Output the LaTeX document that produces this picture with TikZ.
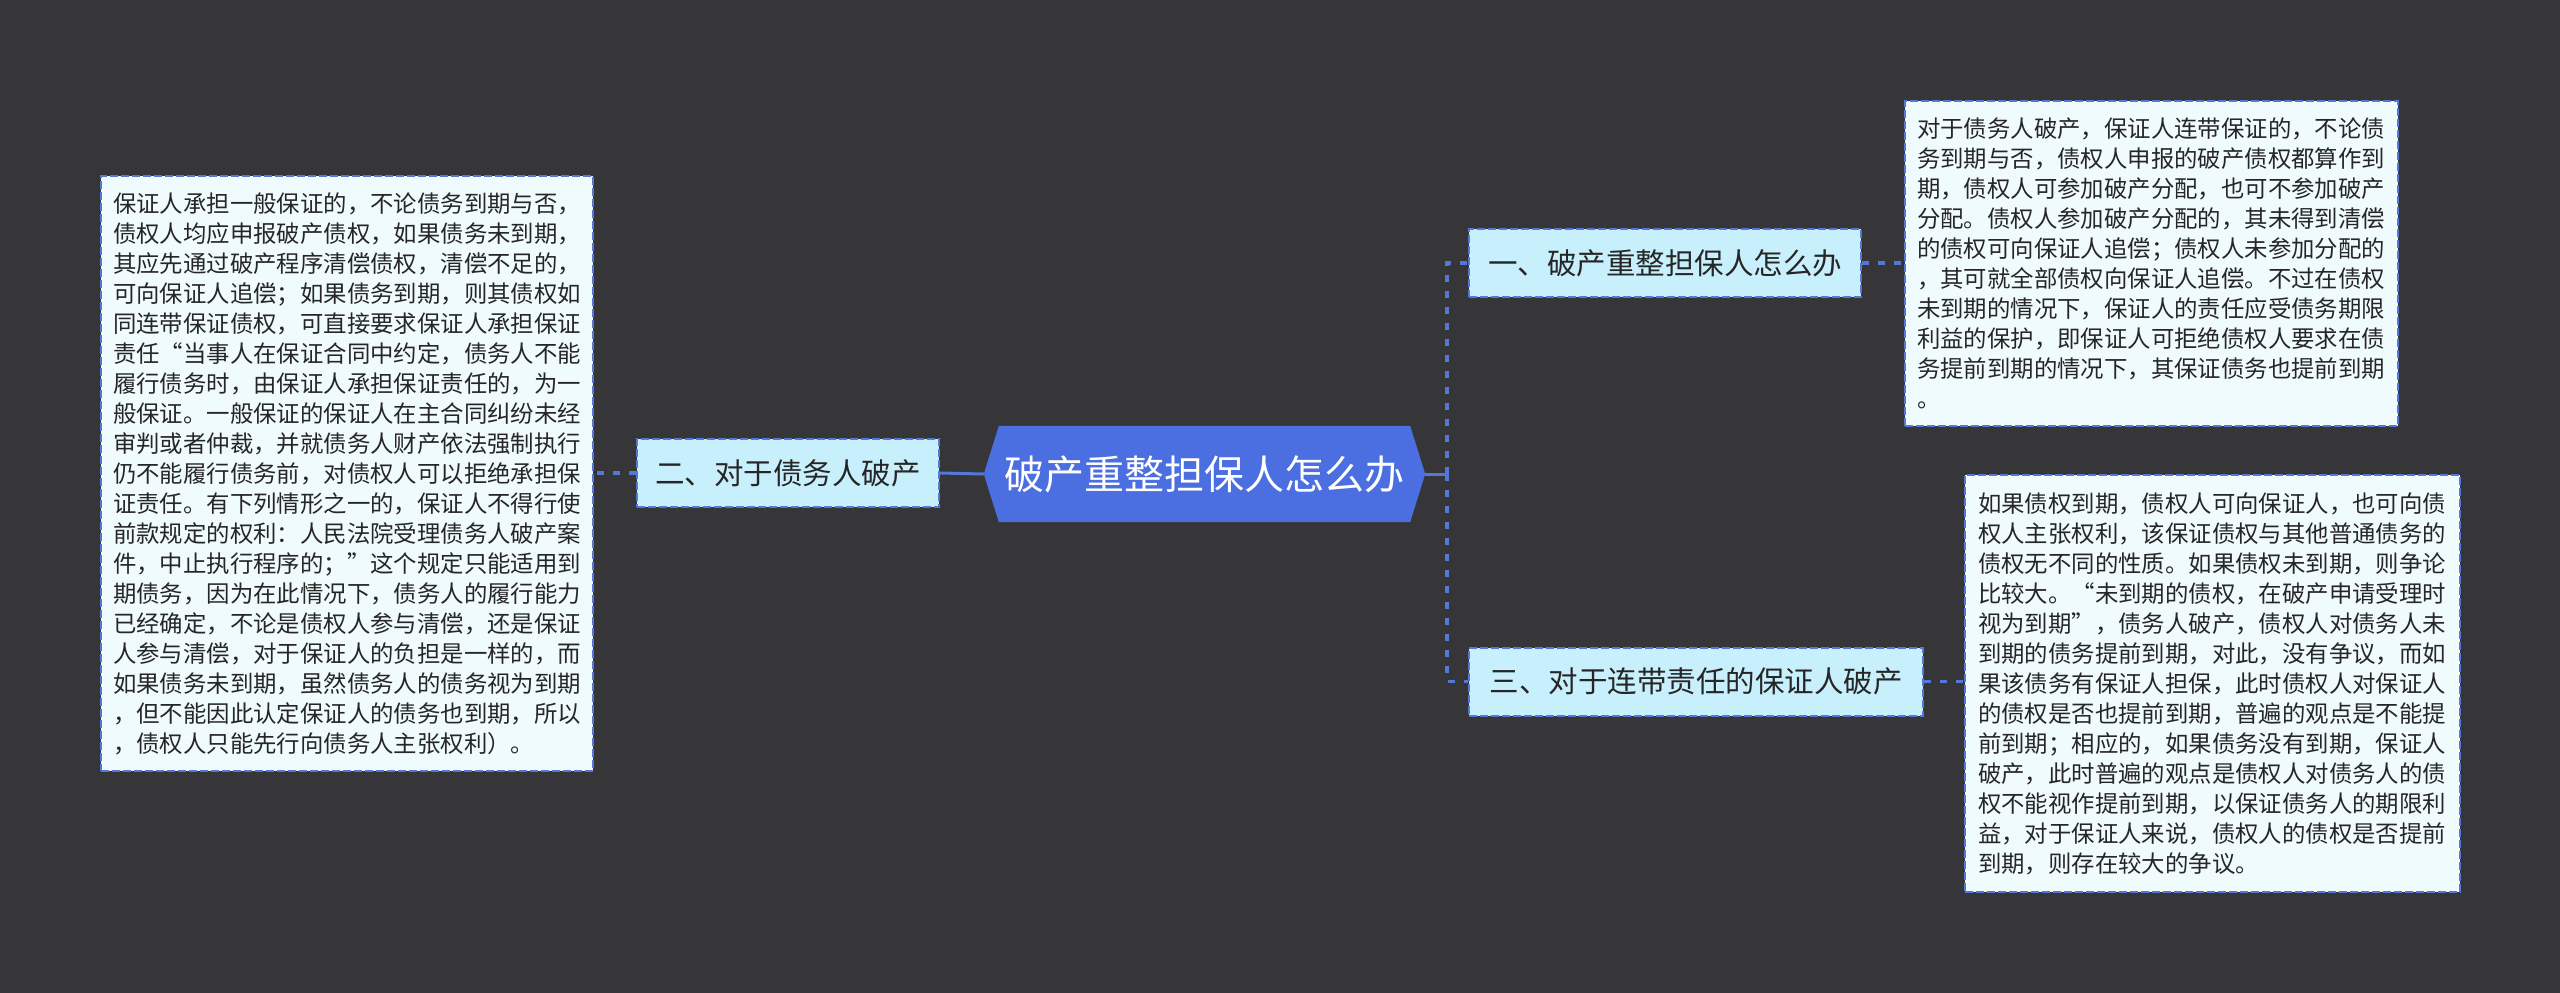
\documentclass[tikz,border=0pt]{standalone}
\usepackage{fontspec}
\newfontfamily\cjk{Noto Sans CJK SC}
\usetikzlibrary{backgrounds}
\definecolor{bgc}{HTML}{363537}
\definecolor{hexc}{HTML}{4B6EE0}
\definecolor{brc}{HTML}{C8EFFC}
\definecolor{boxc}{HTML}{F0FBFD}
\definecolor{linec}{HTML}{5676D8}
\definecolor{txt}{HTML}{262626}
\begin{document}
\begin{tikzpicture}[x=1pt,y=-1pt,
 hexnode/.style={minimum width=441pt,minimum height=96pt,inner sep=0pt,text=white,font=\cjk\fontsize{40}{48}\selectfont},
 branch/.style={draw=linec,line width=2pt,dash pattern=on 8pt off 3pt,fill=brc,inner sep=0pt,minimum height=68pt,text=txt,font=\cjk\fontsize{29.5}{36}\selectfont},
 leaf/.style={draw=linec,line width=2pt,dash pattern=on 8pt off 3pt,fill=boxc,inner sep=0pt,align=left,text=txt,font=\cjk\fontsize{23.4}{30}\selectfont},
 link/.style={draw=linec,line width=3.5pt,dash pattern=on 7pt off 9pt},
 slink/.style={draw=linec,line width=3pt}]
\useasboundingbox (0,0) rectangle (2560,993);
\begin{scope}[on background layer]
\fill[bgc] (0,0) rectangle (2560,993);
\end{scope}

\node[hexnode] (c) at (1204.5,474) {破产重整担保人怎么办};
\begin{scope}[on background layer]
\fill[hexc] (c.west) -- ([xshift=15pt]c.north west) -- ([xshift=-15pt]c.north east) -- (c.east) -- ([xshift=-15pt]c.south east) -- ([xshift=15pt]c.south west) -- cycle;
\end{scope}

\node[branch,minimum width=392pt] (n1) at (1665,263) {一、破产重整担保人怎么办};
\node[branch,minimum width=302pt] (n2) at (788,473) {二、对于债务人破产};
\node[branch,minimum width=454pt] (n3) at (1696,681.5) {三、对于连带责任的保证人破产};

\node[leaf,minimum width=492pt,minimum height=595pt,text width=468pt] (l2) at (347,473.5) {保证人承担一般保证的，不论债务到期与否，\\
债权人均应申报破产债权，如果债务未到期，\\
其应先通过破产程序清偿债权，清偿不足的，\\
可向保证人追偿；如果债务到期，则其债权如\\
同连带保证债权，可直接要求保证人承担保证\\
责任“当事人在保证合同中约定，债务人不能\\
履行债务时，由保证人承担保证责任的，为一\\
般保证。一般保证的保证人在主合同纠纷未经\\
审判或者仲裁，并就债务人财产依法强制执行\\
仍不能履行债务前，对债权人可以拒绝承担保\\
证责任。有下列情形之一的，保证人不得行使\\
前款规定的权利：人民法院受理债务人破产案\\
件，中止执行程序的；”这个规定只能适用到\\
期债务，因为在此情况下，债务人的履行能力\\
已经确定，不论是债权人参与清偿，还是保证\\
人参与清偿，对于保证人的负担是一样的，而\\
如果债务未到期，虽然债务人的债务视为到期\\
，但不能因此认定保证人的债务也到期，所以\\
，债权人只能先行向债务人主张权利）。};

\node[leaf,minimum width=493pt,minimum height=325pt,text width=469pt] (l1) at (2151.5,263) {对于债务人破产，保证人连带保证的，不论债\\
务到期与否，债权人申报的破产债权都算作到\\
期，债权人可参加破产分配，也可不参加破产\\
分配。债权人参加破产分配的，其未得到清偿\\
的债权可向保证人追偿；债权人未参加分配的\\
，其可就全部债权向保证人追偿。不过在债权\\
未到期的情况下，保证人的责任应受债务期限\\
利益的保护，即保证人可拒绝债权人要求在债\\
务提前到期的情况下，其保证债务也提前到期\\
。};

\node[leaf,minimum width=495pt,minimum height=417pt,text width=469pt] (l3) at (2212.5,683.5) {如果债权到期，债权人可向保证人，也可向债\\
权人主张权利，该保证债权与其他普通债务的\\
债权无不同的性质。如果债权未到期，则争论\\
比较大。“未到期的债权，在破产申请受理时\\
视为到期”，债务人破产，债权人对债务人未\\
到期的债务提前到期，对此，没有争议，而如\\
果该债务有保证人担保，此时债权人对保证人\\
的债权是否也提前到期，普遍的观点是不能提\\
前到期；相应的，如果债务没有到期，保证人\\
破产，此时普遍的观点是债权人对债务人的债\\
权不能视作提前到期，以保证债务人的期限利\\
益，对于保证人来说，债权人的债权是否提前\\
到期，则存在较大的争议。};

\coordinate (t) at (1447,474);
\draw[slink] (c.east) -- (t);
\draw[link] (t) |- (n1.west);
\draw[link] (t) |- (n3.west);
\draw[slink] (c.west) -- (n2.east);
\draw[link] (n2.west) -- (n2.west -| l2.east);
\draw[link] (n1.east) -- (n1.east -| l1.west);
\draw[link] (n3.east) -- (n3.east -| l3.west);
\end{tikzpicture}
\end{document}
